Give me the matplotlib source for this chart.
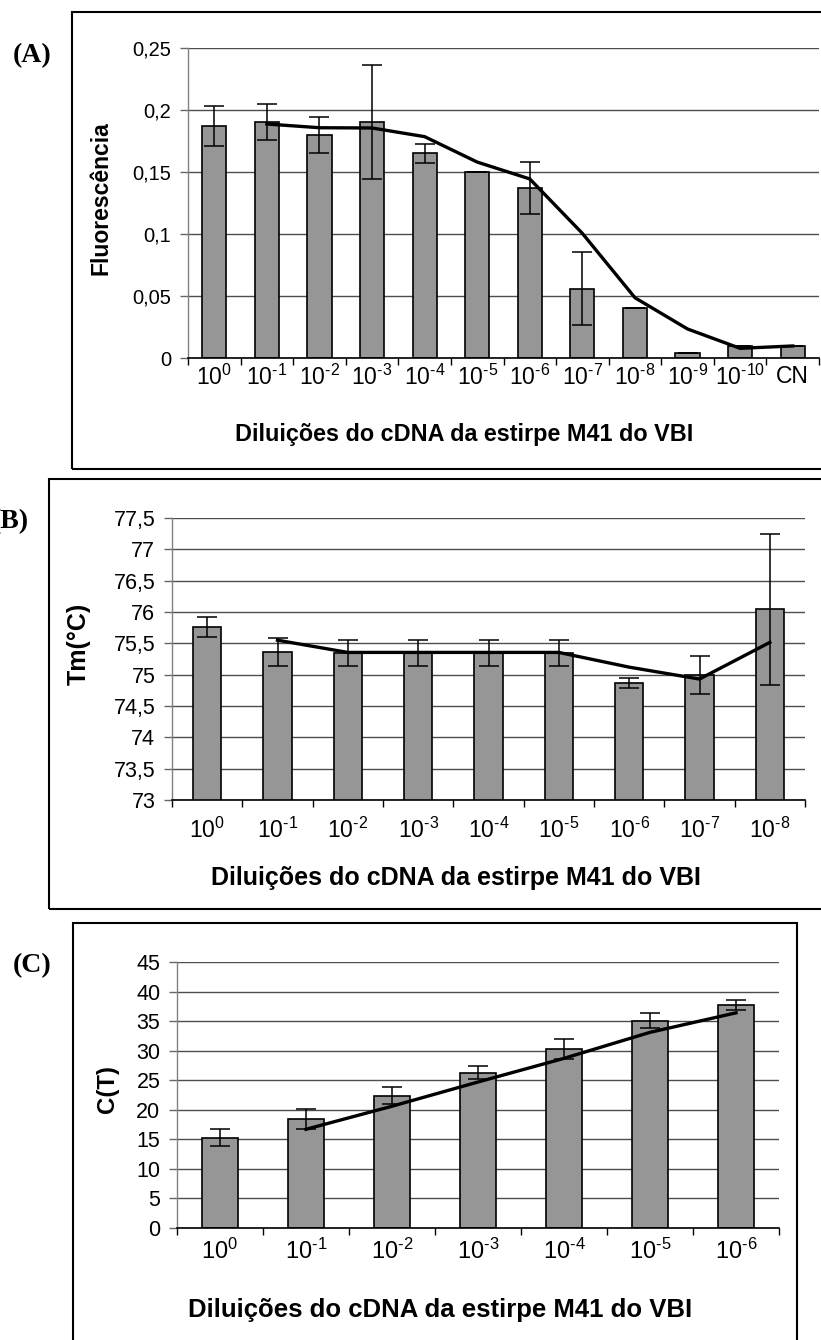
import matplotlib
matplotlib.use("Agg")
import matplotlib.pyplot as plt
import numpy as np
from matplotlib.patches import Rectangle

plt.rcParams["font.family"] = ["Liberation Sans", "DejaVu Sans"]
plt.rcParams["mathtext.fontset"] = "custom"
plt.rcParams["mathtext.rm"] = "Liberation Sans"
plt.rcParams["mathtext.it"] = "Liberation Sans:italic"
plt.rcParams["mathtext.bf"] = "Liberation Sans:bold"

W, H = 821, 1340

# ---- data ----
a_labels = ["0", "-1", "-2", "-3", "-4", "-5", "-6", "-7", "-8", "-9", "-10", "CN"]
a_values = [0.187, 0.190, 0.180, 0.190, 0.165, 0.150, 0.137, 0.056, 0.040, 0.004, 0.010, 0.010]
a_err = [0.016, 0.0145, 0.0145, 0.046, 0.0075, 0.0, 0.021, 0.0295, 0.0, 0.0, 0.0, 0.0]
a_trend = [0.1887, 0.1857, 0.1855, 0.1785, 0.158, 0.1444, 0.1005, 0.0486, 0.0234, 0.0078, 0.0097]
a_yticks = [0, 0.05, 0.1, 0.15, 0.2, 0.25]
a_yticklabels = ["0", "0,05", "0,1", "0,15", "0,2", "0,25"]

b_labels = ["0", "-1", "-2", "-3", "-4", "-5", "-6", "-7", "-8"]
b_values = [75.76, 75.36, 75.35, 75.35, 75.35, 75.35, 74.86, 74.99, 76.04]
b_err = [0.16, 0.22, 0.21, 0.21, 0.21, 0.21, 0.08, 0.30, 1.20]
b_trend = [75.55, 75.355, 75.355, 75.355, 75.355, 75.12, 74.93, 75.515]
b_yticks = [73, 73.5, 74, 74.5, 75, 75.5, 76, 76.5, 77, 77.5]
b_yticklabels = ["73", "73,5", "74", "74,5", "75", "75,5", "76", "76,5", "77", "77,5"]

c_labels = ["0", "-1", "-2", "-3", "-4", "-5", "-6"]
c_values = [15.3, 18.4, 22.4, 26.3, 30.3, 35.1, 37.7]
c_err = [1.5, 1.65, 1.45, 1.15, 1.7, 1.3, 0.8]
c_trend = [16.7, 20.6, 24.7, 28.7, 33.1, 36.4]
c_yticks = [0, 5, 10, 15, 20, 25, 30, 35, 40, 45]
c_yticklabels = [str(v) for v in c_yticks]

xlabel = "Diluições do cDNA da estirpe M41 do VBI"

BAR = "#969696"
GRID = "#4d4d4d"


def px_axes(fig, left, top, right, bottom):
    return fig.add_axes([left / W, 1 - bottom / H, (right - left) / W, (bottom - top) / H])


def fig_xy(x, y):
    return x / W, 1 - y / H


def fmt_tick(lab):
    if lab == "CN":
        return "CN"
    # plain hyphen in the exponent, like the original
    return r"$\mathregular{10^{\text{%s}}}$" % lab


def draw_panel(ax, labels, values, err, trend, yticks, yticklabels, width,
               ytick_size, xtick_size, xtick_pad):
    n = len(values)
    x = np.arange(n)
    ax.bar(x, values, width=width, color=BAR, edgecolor="black", linewidth=1.2, zorder=2)
    ax.errorbar(x, values, yerr=err, fmt="none", ecolor="black", elinewidth=1.1,
                capsize=7, capthick=1.1, zorder=3)
    ax.plot(x[n - len(trend):], trend, color="black", linewidth=2.4, zorder=4,
            solid_joinstyle="round")

    ax.set_xlim(-0.5, n - 0.5)
    ax.set_ylim(yticks[0], yticks[-1])
    ax.set_yticks(yticks)
    ax.set_yticklabels(yticklabels, fontsize=ytick_size)
    ax.set_xticks(x)
    ax.set_xticklabels([fmt_tick(l) for l in labels], fontsize=xtick_size)
    ax.set_xticks(np.arange(n + 1) - 0.5, minor=True)
    ax.tick_params(axis="x", which="major", length=0, pad=xtick_pad)
    ax.tick_params(axis="x", which="minor", length=5, width=1, color="black", direction="out")
    ax.tick_params(axis="y", length=6, width=1, color="#666666", pad=6)

    ax.grid(axis="y", color=GRID, linewidth=1.0, zorder=0)
    ax.set_axisbelow(True)
    for side in ("top", "right"):
        ax.spines[side].set_visible(False)
    ax.spines["left"].set_color("#808080")
    ax.spines["left"].set_linewidth(1.0)
    ax.spines["bottom"].set_color("black")
    ax.spines["bottom"].set_linewidth(1.2)


fig = plt.figure(figsize=(W / 100, H / 100), dpi=100)

# panel boxes
for (l, t, r, b) in [(72, 12, 840, 469), (49, 479, 840, 909), (73, 923, 797, 1360)]:
    x0, y0 = fig_xy(l, b)
    fig.patches.append(Rectangle((x0, y0), (r - l) / W, (b - t) / H, transform=fig.transFigure,
                                 fill=False, edgecolor="black", linewidth=1.5))

# (A)
ax_a = px_axes(fig, 188, 48, 819, 358)
draw_panel(ax_a, a_labels, a_values, a_err, a_trend, a_yticks, a_yticklabels, 0.46,
           14.5, 16.5, 5)
# (B)
ax_b = px_axes(fig, 172, 518, 805, 800)
draw_panel(ax_b, b_labels, b_values, b_err, b_trend, b_yticks, b_yticklabels, 0.40,
           15.5, 16.5, 13)
# (C)
ax_c = px_axes(fig, 177, 962, 779, 1228)
draw_panel(ax_c, c_labels, c_values, c_err, c_trend, c_yticks, c_yticklabels, 0.42,
           15.5, 17, 8)

serif = ["Liberation Serif", "DejaVu Serif"]
fig.text(*fig_xy(13, 56), "(A)", fontsize=20, fontweight="bold", family=serif, ha="left", va="center")
fig.text(*fig_xy(29, 522), "(B)", fontsize=20, fontweight="bold", family=serif, ha="right", va="center")
fig.text(*fig_xy(13, 966), "(C)", fontsize=20, fontweight="bold", family=serif, ha="left", va="center")

fig.text(*fig_xy(101, 198), "Fluorescência", fontsize=16.5, fontweight="bold", rotation=90,
         ha="center", va="center")
fig.text(*fig_xy(79, 644), "Tm(°C)", fontsize=18, fontweight="bold", rotation=90,
         ha="center", va="center")
fig.text(*fig_xy(107, 1089), "C(T)", fontsize=17.3, fontweight="bold", rotation=90,
         ha="center", va="center")

fig.text(*fig_xy(464, 434), xlabel, fontsize=16.8, fontweight="bold", ha="center", va="center")
fig.text(*fig_xy(456, 878), xlabel, fontsize=18, fontweight="bold", ha="center", va="center")
fig.text(*fig_xy(440, 1310), xlabel, fontsize=18.5, fontweight="bold", ha="center", va="center")

fig.savefig("out.png", dpi=100)
